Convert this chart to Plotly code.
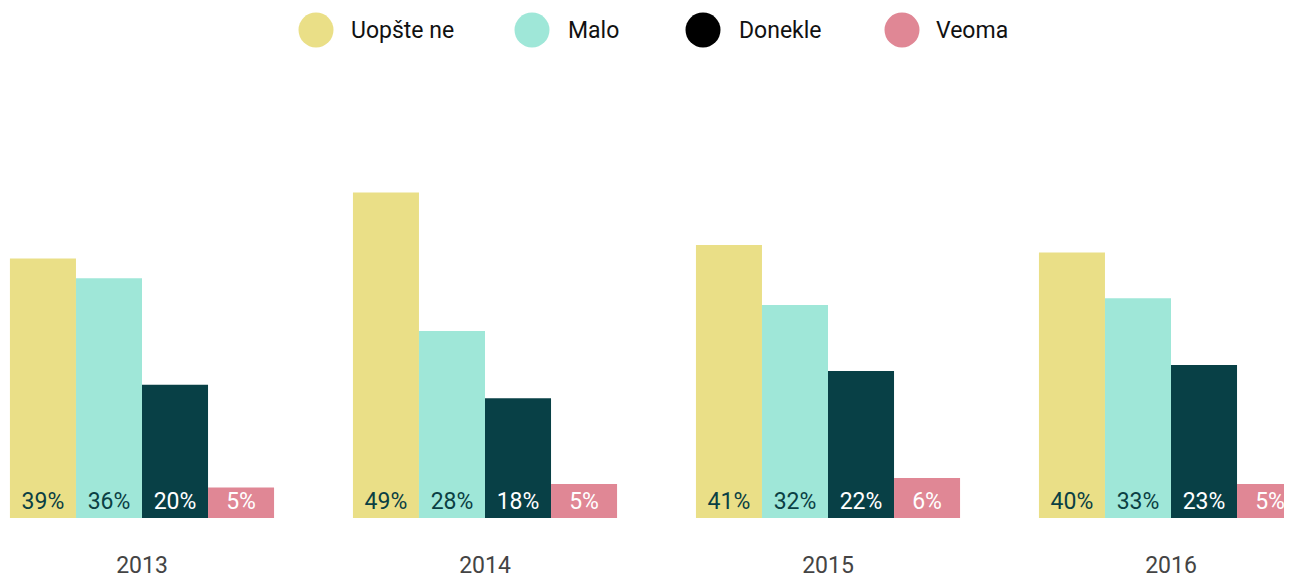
import plotly.graph_objects as go

years = ["2013", "2014", "2015", "2016"]
series_names = ["Uopšte ne", "Malo", "Donekle", "Veoma"]
uopste_ne = [39.0, 48.9, 41.0, 39.9]
malo = [36.0, 28.1, 32.0, 33.0]
donekle = [20.0, 18.0, 22.1, 23.0]
veoma = [4.6, 5.1, 6.0, 5.1]

bar_colors = ["#EADF87", "#9FE7D8", "#084046", "#E08795"]
legend_colors = ["#EADF87", "#9FE7D8", "#000000", "#E08795"]
text_colors = ["#0B3F44", "#0B3F44", "#FFFFFF", "#FFFFFF"]
FONT = "Roboto"

# the page body has an 8px margin; layout positions below compensate for it
OFF = 8
W, H = 1292, 576
T_MARGIN = 80 - OFF
B_MARGIN = H - (518 - OFF)
PLOT_H = H - T_MARGIN - B_MARGIN

fig = go.Figure()
for name, vals, col, tcol in zip(series_names, [uopste_ne, malo, donekle, veoma], bar_colors, text_colors):
    fig.add_trace(go.Bar(
        x=years, y=vals, name=name,
        marker=dict(color=col, line=dict(width=0)),
        texttemplate="%{y:.0f}%",
        textposition="inside",
        insidetextanchor="start",
        constraintext="none",
        textangle=0,
        textfont=dict(family=FONT, size=23, color=tcol),
        showlegend=False,
        hoverinfo="skip",
    ))

# custom legend with large circles
legend_cx = [316, 532, 703, 902]
legend_tx = [349, 566, 737, 934]
legend_y = 1 + (80 - 30) / PLOT_H
shapes = []
annotations = []
for name, col, cx, tx in zip(series_names, legend_colors, legend_cx, legend_tx):
    shapes.append(dict(
        type="circle", xref="paper", yref="paper",
        xsizemode="pixel", ysizemode="pixel",
        xanchor=(cx - OFF) / W, yanchor=legend_y,
        x0=-17.5, x1=17.5, y0=-17.5, y1=17.5,
        fillcolor=col, line=dict(width=0),
    ))
    annotations.append(dict(
        text=name, xref="paper", yref="paper",
        x=(tx - OFF) / W, y=legend_y,
        xanchor="left", yanchor="middle", showarrow=False,
        font=dict(family=FONT, size=23, color="#111111"),
    ))

cat_px = 343.0
first_center = 142 - OFF
fig.update_layout(
    width=W, height=H,
    margin=dict(l=0, r=0, t=T_MARGIN, b=B_MARGIN, pad=0),
    paper_bgcolor="white", plot_bgcolor="white",
    barmode="group", bargap=0.23, bargroupgap=0,
    shapes=shapes, annotations=annotations,
    showlegend=False,
    xaxis=dict(
        type="category",
        range=[-first_center / cat_px, (W - first_center) / cat_px],
        automargin=False,
        showgrid=False, zeroline=False, showline=False,
        ticks="outside", ticklen=26, tickcolor="rgba(0,0,0,0)",
        tickfont=dict(family=FONT, size=23, color="#444444"),
    ),
    yaxis=dict(
        range=[0, 65.8], visible=False, showgrid=False, zeroline=False,
        automargin=False,
    ),
)

fig.write_html("out.html")
